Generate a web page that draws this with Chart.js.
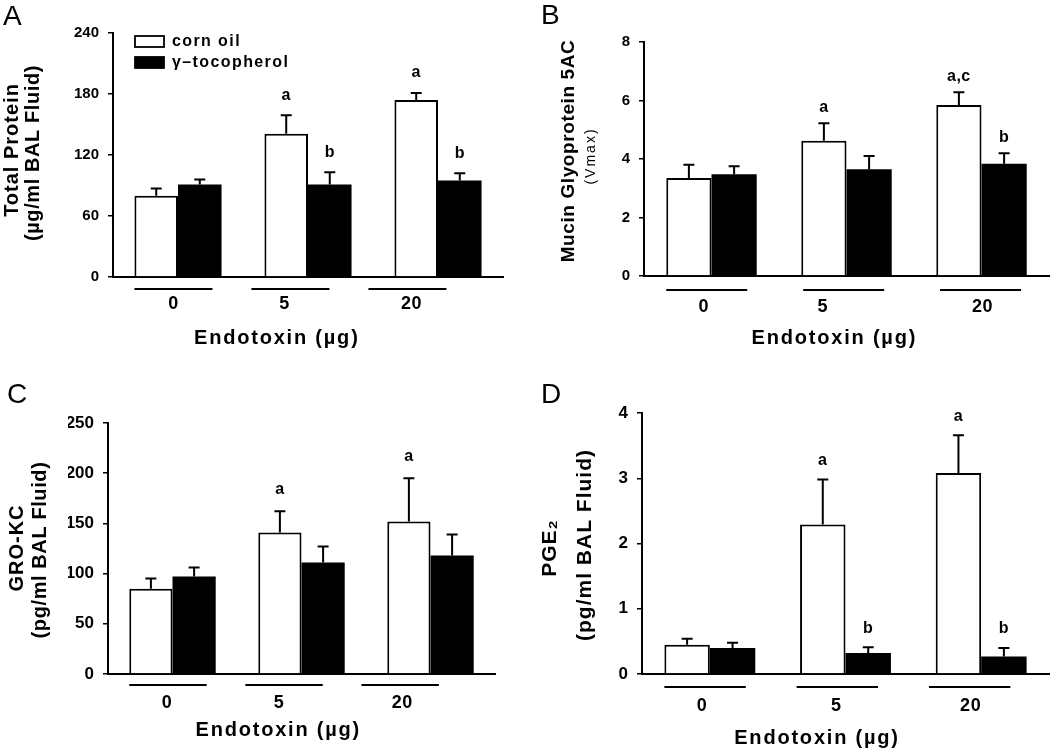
<!DOCTYPE html>
<html>
<head>
<meta charset="utf-8">
<script src="https://cdn.jsdelivr.net/npm/chart.js@4.4.1/dist/chart.umd.min.js"></script>
<style>
  body { margin: 0; background: #fff; overflow: hidden; }
  .panel { position: absolute; }
</style>
</head>
<body>
<div class="panel" style="left:0;top:0;width:520px;height:377px"><canvas id="chartA"></canvas></div>
<div class="panel" style="left:520px;top:0;width:530px;height:377px"><canvas id="chartB"></canvas></div>
<div class="panel" style="left:0;top:377px;width:520px;height:377px"><canvas id="chartC"></canvas></div>
<div class="panel" style="left:520px;top:377px;width:530px;height:377px"><canvas id="chartD"></canvas></div>
<script>
const doses = ['0', '5', '20'];
const seriesNames = ['corn oil', 'γ–tocopherol'];

// A - total protein
const proteinCorn = [80, 141, 174];
const proteinCornErr = [7, 18, 7];
const proteinToco = [91, 91, 95];
const proteinTocoErr = [5, 12, 7];
const proteinCornSig = ['', 'a', 'a'];
const proteinTocoSig = ['', 'b', 'b'];
const proteinTicks = [0, 60, 120, 180, 240];

// B - mucin glycoprotein 5AC
const mucinCorn = [3.35, 4.62, 5.85];
const mucinCornErr = [0.45, 0.6, 0.43];
const mucinToco = [3.48, 3.65, 3.84];
const mucinTocoErr = [0.27, 0.45, 0.36];
const mucinCornSig = ['', 'a', 'a,c'];
const mucinTocoSig = ['', '', 'b'];
const mucinTicks = [0, 2, 4, 6, 8];

// C - GRO-KC
const groCorn = [85, 141, 152];
const groCornErr = [10, 21, 43];
const groToco = [97, 111, 118];
const groTocoErr = [9, 16, 21];
const groCornSig = ['', 'a', 'a'];
const groTocoSig = ['', '', ''];
const groTicks = [0, 50, 100, 150, 200, 250];

// D - PGE2
const pgeCorn = [0.45, 2.29, 3.08];
const pgeCornErr = [0.09, 0.69, 0.58];
const pgeToco = [0.40, 0.32, 0.27];
const pgeTocoErr = [0.08, 0.09, 0.13];
const pgeCornSig = ['', 'a', 'a'];
const pgeTocoSig = ['', 'b', 'b'];
const pgeTicks = [0, 1, 2, 3, 4];

const FONT = 'Arial, "Liberation Sans", Helvetica, sans-serif';
Chart.defaults.font.family = FONT;
Chart.defaults.color = '#000';

function text(ctx, str, x, y, font, spacing, align, rotate) {
    ctx.save();
    ctx.translate(x, y);
    if (rotate) ctx.rotate(-Math.PI / 2);
    ctx.font = font + ' ' + FONT;
    ctx.letterSpacing = (spacing || 0) + 'px';
    ctx.textAlign = align || 'center';
    ctx.textBaseline = 'middle';
    ctx.fillStyle = '#000';
    ctx.fillText(str, 0, 0);
    ctx.restore();
}

function makeDecor(cfg) {
    return {
        id: 'decor',
        afterDatasetsDraw(chart) {
            const ctx = chart.ctx;
            const yScale = chart.scales.y;
            ctx.save();
            ctx.strokeStyle = '#000';
            ctx.lineWidth = 2;
            chart.data.datasets.forEach((ds, di) => {
                chart.getDatasetMeta(di).data.forEach((bar, i) => {
                    const top = yScale.getPixelForValue(ds.data[i] + ds.errors[i]);
                    ctx.beginPath();
                    ctx.moveTo(bar.x, bar.y);
                    ctx.lineTo(bar.x, top);
                    ctx.moveTo(bar.x - 5.5, top);
                    ctx.lineTo(bar.x + 5.5, top);
                    ctx.stroke();
                    if (ds.sig[i]) {
                        text(ctx, ds.sig[i], bar.x, top - cfg.sigGap, 'bold 16px', 0.5);
                    }
                });
            });
            ctx.restore();
        },
        afterDraw(chart) {
            const ctx = chart.ctx;
            const a = chart.chartArea;
            const w = a.right - a.left;
            ctx.save();
            ctx.strokeStyle = '#000';
            ctx.lineWidth = 2;

            // dose group lines + labels
            chart.data.labels.forEach((lab, i) => {
                const cx = a.left + w * (0.155 + i * cfg.step);
                ctx.beginPath();
                ctx.moveTo(cx - w * 0.1, a.bottom + cfg.lineDy);
                ctx.lineTo(cx + w * 0.1, a.bottom + cfg.lineDy);
                ctx.stroke();
                text(ctx, lab, cx + cfg.shift[i], a.bottom + cfg.labelDy, 'bold 18px', 0.5);
            });
            text(ctx, 'Endotoxin (µg)', a.left + w * cfg.xFrac, a.bottom + cfg.xDy, 'bold 20px', 1.8);

            // y axis title
            cfg.titles.forEach(t => text(ctx, t[0], t[1], t[2], t[3], t[4], 'center', true));

            // panel letter
            ctx.font = '28px ' + FONT;
            ctx.fillStyle = '#000';
            ctx.textAlign = 'left';
            ctx.textBaseline = 'alphabetic';
            ctx.fillText(cfg.letter, cfg.letterPos[0], cfg.letterPos[1]);

            // legend (panel A only)
            if (cfg.legend) {
                const lx = a.left + 22;
                ctx.lineWidth = 1.8;
                chart.data.datasets.forEach((ds, di) => {
                    const ly = a.top + 3 + di * 21;
                    ctx.fillStyle = ds.backgroundColor;
                    ctx.fillRect(lx, ly, 29, 11);
                    ctx.strokeRect(lx, ly, 29, 11);
                    text(ctx, ds.label, lx + 37, ly + 6, 'bold 16px', 1.4, 'left');
                });
            }
            ctx.restore();
        }
    };
}

function makePanel(id, cfg) {
    new Chart(document.getElementById(id), {
        type: 'bar',
        data: {
            labels: doses,
            datasets: [
                {
                    label: seriesNames[0],
                    data: cfg.corn,
                    errors: cfg.cornErr,
                    sig: cfg.cornSig,
                    backgroundColor: '#ffffff',
                    borderColor: '#000000',
                    borderWidth: 2
                },
                {
                    label: seriesNames[1],
                    data: cfg.toco,
                    errors: cfg.tocoErr,
                    sig: cfg.tocoSig,
                    backgroundColor: '#000000',
                    borderColor: '#000000',
                    borderWidth: 0
                }
            ]
        },
        options: {
            responsive: true,
            maintainAspectRatio: false,
            animation: false,
            layout: { padding: cfg.padding },
            datasets: { bar: { barPercentage: 1, categoryPercentage: 0.67 } },
            plugins: { legend: { display: false }, tooltip: { enabled: false } },
            scales: {
                x: {
                    grid: { display: false, drawTicks: false },
                    ticks: { display: false },
                    border: { color: '#000', width: 2 },
                    afterFit: s => { s.height = 0; }
                },
                y: {
                    min: cfg.ticks[0],
                    max: cfg.ticks[cfg.ticks.length - 1],
                    afterBuildTicks: s => { s.ticks = cfg.ticks.map(v => ({ value: v })); },
                    afterFit: s => { s.width = 40; },
                    grid: { drawOnChartArea: false, drawTicks: true, tickLength: 5, color: '#000', lineWidth: 1.5 },
                    border: { color: '#000', width: 2 },
                    ticks: {
                        color: '#000',
                        padding: 9,
                        font: { size: cfg.tickSize, weight: 'bold' }
                    }
                }
            }
        },
        plugins: [makeDecor(cfg)]
    });
}

makePanel('chartA', {
    corn: proteinCorn, cornErr: proteinCornErr, cornSig: proteinCornSig,
    toco: proteinToco, tocoErr: proteinTocoErr, tocoSig: proteinTocoSig,
    ticks: proteinTicks, tickSize: 15,
    padding: { left: 73, right: 17, top: 33, bottom: 100 },
    step: 0.3, shift: [0, -6, 4], lineDy: 12, labelDy: 27, xFrac: 0.42, xDy: 61,
    sigGap: 20,
    titles: [['Total Protein', 12, 150, 'bold 20px', 1], ['(µg/ml BAL Fluid)', 33, 153, 'bold 20px', 0.6]],
    letter: 'A', letterPos: [3, 25], legend: true
});

makePanel('chartB', {
    corn: mucinCorn, cornErr: mucinCornErr, cornSig: mucinCornSig,
    toco: mucinToco, tocoErr: mucinTocoErr, tocoSig: mucinTocoSig,
    ticks: mucinTicks, tickSize: 15,
    padding: { left: 84, right: 1, top: 42, bottom: 101 },
    step: 0.338, shift: [-3, -21, 2], lineDy: 14, labelDy: 31, xFrac: 0.47, xDy: 62,
    sigGap: 16,
    titles: [['Mucin Glyoprotein 5AC', 49, 151, 'bold 19px', 0.6], ['(Vmax)', 71, 156, '14px', 2]],
    letter: 'B', letterPos: [21, 24]
});

makePanel('chartC', {
    corn: groCorn, cornErr: groCornErr, cornSig: groCornSig,
    toco: groToco, tocoErr: groTocoErr, tocoSig: groTocoSig,
    ticks: groTicks, tickSize: 17,
    padding: { left: 68, right: 25, top: 46, bottom: 80 },
    step: 0.3, shift: [-1, -5, 2], lineDy: 11, labelDy: 29, xFrac: 0.44, xDy: 56,
    sigGap: 22,
    titles: [['GRO-KC', 17, 171, 'bold 20px', 1], ['(pg/ml BAL Fluid)', 40, 173, 'bold 20px', 0.6]],
    letter: 'C', letterPos: [7, 26]
});

makePanel('chartD', {
    corn: pgeCorn, cornErr: pgeCornErr, cornSig: pgeCornSig,
    toco: pgeToco, tocoErr: pgeTocoErr, tocoSig: pgeTocoSig,
    ticks: pgeTicks, tickSize: 17,
    padding: { left: 82, right: 1, top: 36, bottom: 80 },
    step: 0.325, shift: [-3, -1, 1], lineDy: 13, labelDy: 32, xFrac: 0.43, xDy: 64,
    sigGap: 19,
    titles: [['PGE₂', 30, 171, 'bold 21px', 1], ['(pg/ml BAL Fluid)', 65, 168, 'bold 21px', 1]],
    letter: 'D', letterPos: [21, 26]
});
</script>
</body>
</html>
